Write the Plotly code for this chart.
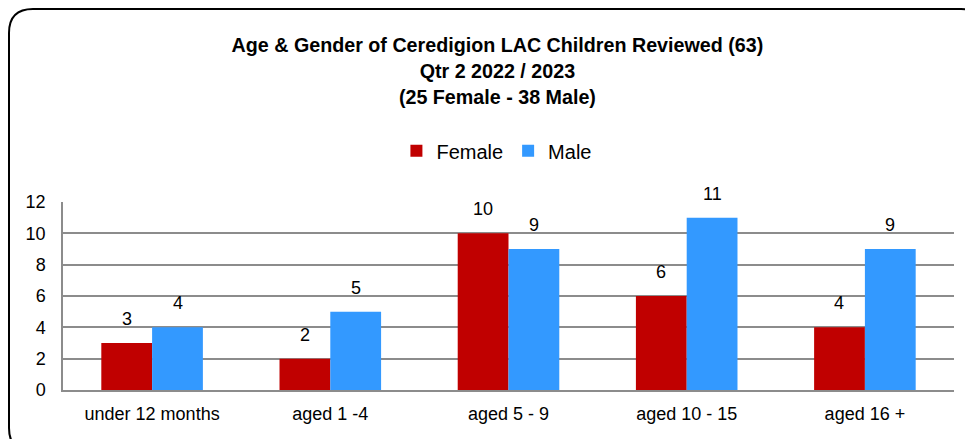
import plotly.graph_objects as go

categories = ["under 12 months", "aged 1 -4", "aged 5 - 9", "aged 10 - 15", "aged 16 +"]
female = [3, 2, 10, 6, 4]
male = [4, 5, 9, 11, 9]
y_ticks = [0, 2, 4, 6, 8, 10, 12]

FONT = "Liberation Sans, Arial, sans-serif"
F_COL = "#C00000"
M_COL = "#3399FF"

fig = go.Figure()
fig.add_trace(go.Bar(name="Female", x=categories, y=female, marker_color=F_COL,
                     marker_line_width=0))
fig.add_trace(go.Bar(name="Male", x=categories, y=male, marker_color=M_COL,
                     marker_line_width=0))

annotations = []
for vals, shift in ((female, -25.5), (male, 25.5)):
    for c, v in zip(categories, vals):
        annotations.append(dict(x=c, y=v, xref="x", yref="y", text=str(v),
                                showarrow=False, xshift=shift, yshift=24,
                                yanchor="middle",
                                font=dict(family=FONT, size=18, color="#000")))

# rounded chart border (page pixels -> paper coordinates of the plot area)
L, P_W, BOTTOM, P_H = 63, 891, 390, 188
def px(x):
    return (x - L) / P_W
def py(y):
    return (BOTTOM - y) / P_H
x0, x1, y0, y1 = px(9), px(985), py(452), py(9)
rx, ry = 24 / P_W, 24 / P_H
path = (f"M {x0+rx},{y1} L {x1-rx},{y1} Q {x1},{y1} {x1},{y1-ry} "
        f"L {x1},{y0+ry} Q {x1},{y0} {x1-rx},{y0} L {x0+rx},{y0} "
        f"Q {x0},{y0} {x0},{y0+ry} L {x0},{y1-ry} Q {x0},{y1} {x0+rx},{y1} Z")

fig.update_layout(
    width=973, height=439,
    margin=dict(l=55, r=27, t=194, b=57),
    paper_bgcolor="white", plot_bgcolor="white",
    barmode="group", bargap=0.43, bargroupgap=0,
    title=dict(text="Age & Gender of Ceredigion LAC Children Reviewed (63)<br>Qtr 2 2022 / 2023<br>(25 Female - 38 Male)",
               x=0.503, xanchor="center", y=0.899, yanchor="middle",
               font=dict(family=FONT, size=19.7, color="#000", weight="bold")),
    legend=dict(orientation="h", x=0.487, xanchor="center", y=1.272, yanchor="middle",
                font=dict(family=FONT, size=20, color="#000"),
                itemwidth=30, traceorder="normal"),
    font=dict(family=FONT, size=18, color="#000"),
    xaxis=dict(showgrid=False, showline=True, linecolor="#8c8c8c", linewidth=2,
               ticks="", tickfont=dict(size=18), ticklabelstandoff=6, fixedrange=True),
    yaxis=dict(range=[0, 12], tickvals=y_ticks, showgrid=True, gridcolor="#8c8c8c",
               gridwidth=1.5, showline=True, linecolor="#8c8c8c", linewidth=1.5,
               zeroline=False, ticks="", tickfont=dict(size=18), ticklabelstandoff=12),
    annotations=annotations,
    shapes=[dict(type="path", path=path, xref="paper", yref="paper",
                 line=dict(color="#000", width=2), fillcolor="rgba(0,0,0,0)", layer="above")],
)

fig.write_html("out.html")
